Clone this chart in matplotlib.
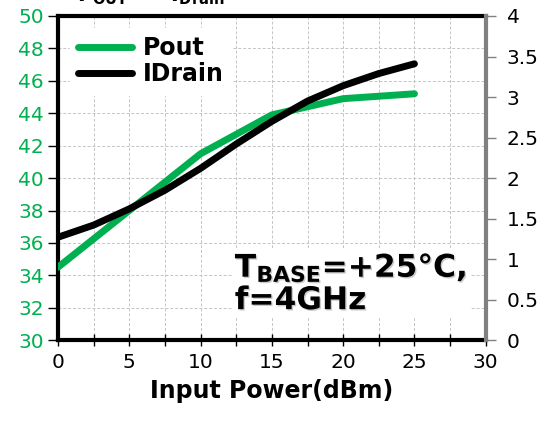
import matplotlib
matplotlib.use("Agg")
import matplotlib.pyplot as plt
import matplotlib.patheffects as pe

# Pout and drain current vs input power
pin_dbm = [0, 5, 10, 15, 20, 25]
pout_dbm = [34.5, 38.0, 41.5, 43.9, 44.9, 45.2]

pin_id = [0, 2.5, 5, 7.5, 10, 12.5, 15, 17.5, 20, 22.5, 25]
idrain_a = [1.27, 1.42, 1.62, 1.85, 2.12, 2.42, 2.70, 2.95, 3.14, 3.29, 3.41]

x_ticks = [0, 5, 10, 15, 20, 25, 30]
left_ticks = [30, 32, 34, 36, 38, 40, 42, 44, 46, 48, 50]
right_ticks = [0, 0.5, 1, 1.5, 2, 2.5, 3, 3.5, 4]
right_labels = ["0", "0.5", "1", "1.5", "2", "2.5", "3", "3.5", "4"]

green = "#00B050"
plt.rcParams["font.family"] = "DejaVu Sans"

fig = plt.figure(figsize=(5.47, 4.21), dpi=100)
ax = fig.add_axes([0.106, 0.192, 0.782, 0.770])
ax2 = ax.twinx()

ax.set_xlim(0, 30)
ax.set_ylim(30, 50)
ax2.set_ylim(0, 4)

# grid: dashed light gray every 2.5 dBm and every 2 dBm
for xv in [2.5 * i for i in range(1, 12)]:
    ax.axvline(xv, color="#c4c4c4", lw=0.7, ls=(0, (3, 2)), zorder=0)
for yv in left_ticks[1:-1]:
    ax.axhline(yv, color="#c4c4c4", lw=0.7, ls=(0, (3, 2)), zorder=0)

l1, = ax.plot(pin_dbm, pout_dbm, color=green, lw=5, solid_capstyle="round",
              solid_joinstyle="round", label="Pout", zorder=3)
l2, = ax2.plot(pin_id, idrain_a, color="black", lw=5, solid_capstyle="round",
               solid_joinstyle="round", label="IDrain", zorder=3)

ax.set_xticks(x_ticks)
ax.set_xticks([2.5 + 5 * i for i in range(6)], minor=True)
ax.set_yticks(left_ticks)
ax2.set_yticks(right_ticks)
ax2.set_yticklabels(right_labels)

ax.tick_params(axis="x", which="both", direction="inout", length=8, width=1,
               labelsize=14.5, pad=5)
ax.tick_params(axis="y", direction="out", length=7, width=1, labelsize=14.5,
               labelcolor=green, pad=3)
ax2.tick_params(axis="y", direction="out", length=7, width=1, labelsize=14.5,
                color="#808080", pad=8)

for s in ["left", "bottom", "top"]:
    ax.spines[s].set_linewidth(3)
    ax.spines[s].set_color("black")
ax.spines["right"].set_visible(False)
for s in ["left", "bottom", "top"]:
    ax2.spines[s].set_visible(False)
ax2.spines["right"].set_linewidth(3)
ax2.spines["right"].set_color("#808080")

ax.set_xlabel("Input Power(dBm)", fontsize=17, fontweight="bold", labelpad=5)

leg = ax2.legend(handles=[l1, l2], loc="upper left", bbox_to_anchor=(0.0, 1.0),
                 prop={"weight": "bold", "size": 17}, frameon=True,
                 fancybox=False, edgecolor="white", framealpha=1,
                 handlelength=2.3, handletextpad=0.45, labelspacing=0.1,
                 borderpad=0.35, borderaxespad=0.5)
leg.set_zorder(5)

ax2.text(12.4, 0.7, r"T$_{\mathbf{BASE}}$=+25°C," "\n" "f=4GHz",
         fontsize=22.5, fontweight="bold", ha="left", va="center",
         linespacing=1.1, zorder=6,
         bbox=dict(facecolor="white", edgecolor="none", pad=2),
         path_effects=[pe.withSimplePatchShadow(offset=(1, -1), shadow_rgbFace="#999999", alpha=0.5)])

# header text clipped at the top edge
fig.text(0.14, 1.012, r"P$_{\mathbf{OUT}}$      I$_{\mathbf{Drain}}$",
         fontsize=15, fontweight="bold", ha="left", va="center")

fig.savefig("out.png", dpi=100)
